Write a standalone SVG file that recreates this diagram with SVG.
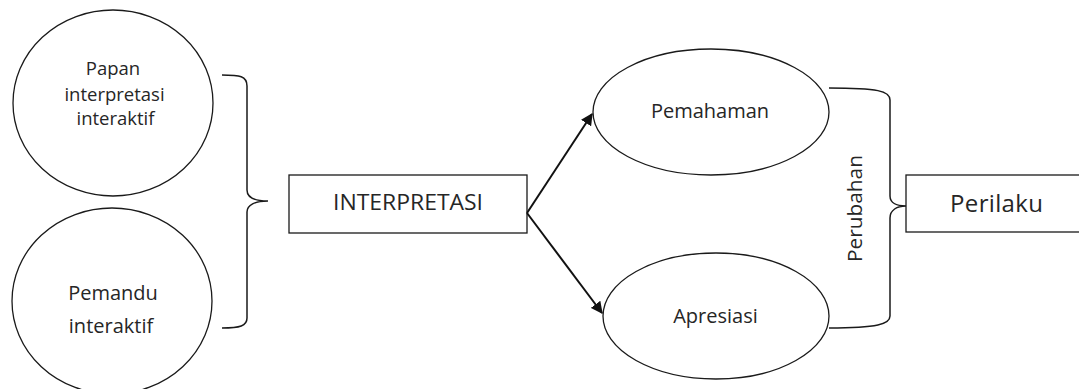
<svg xmlns="http://www.w3.org/2000/svg" width="1079" height="389" viewBox="0 0 1079 389">
<style>
.shape{fill:#fff;stroke:#1a1a1a;stroke-width:1.3}
.brace{fill:none;stroke:#1a1a1a;stroke-width:1.5}
.arrow{fill:none;stroke:#111;stroke-width:2}
text{font-family:"Open Sans","Liberation Sans",sans-serif;fill:#262626;text-anchor:middle}
</style>
<defs>
<marker id="ah" viewBox="0 0 10 10" refX="9" refY="5" markerWidth="6" markerHeight="6" markerUnits="strokeWidth" orient="auto">
<path d="M0,0 L10,5 L0,10 Z" fill="#111"/>
</marker>
</defs>
<rect width="1079" height="389" fill="#fff"/>
<g id="node-papan">
<ellipse class="shape" cx="113" cy="103" rx="100" ry="93"/>
<text x="113" y="75" font-size="18.5">Papan</text>
<text x="114.5" y="101" font-size="18.5">interpretasi</text>
<text x="115.5" y="125" font-size="18.5">interaktif</text>
</g>
<g id="node-pemandu">
<ellipse class="shape" cx="112" cy="301" rx="100" ry="93"/>
<text x="113" y="300" font-size="20">Pemandu</text>
<text x="111" y="333" font-size="20">interaktif</text>
</g>
<g id="node-interpretasi">
<rect class="shape" x="289" y="175" width="238" height="58"/>
<text x="408" y="210" font-size="22.5" textLength="150" lengthAdjust="spacingAndGlyphs">INTERPRETASI</text>
</g>
<g id="node-pemahaman">
<ellipse class="shape" cx="711" cy="112" rx="118" ry="63"/>
<text x="710" y="118" font-size="20">Pemahaman</text>
</g>
<g id="node-apresiasi">
<ellipse class="shape" cx="716" cy="316" rx="113" ry="63"/>
<text x="715.5" y="323" font-size="20">Apresiasi</text>
</g>
<g id="node-perilaku">
<rect class="shape" x="906" y="175" width="190" height="57"/>
<text x="996.5" y="212" font-size="24" textLength="93" lengthAdjust="spacing">Perilaku</text>
</g>
<g id="connectors">
<path class="brace" d="M222,75 C240,75 247,76 247,86 L247,190 C247,198 255,201 268,201 C255,201 247,205 247,212 L247,318 C247,326 240,328 222,328"/>
<path class="brace" d="M829,88 C878,88 890,91 890,100 L890,196 C890,203 897,206 906,206 C897,206 890,210 890,218 L890,316 C890,324 878,328 829,328"/>
<line class="arrow" x1="527" y1="213" x2="592" y2="114" marker-end="url(#ah)"/>
<line class="arrow" x1="527" y1="213" x2="602" y2="313" marker-end="url(#ah)"/>
<text transform="translate(862,208.5) rotate(-90)" font-size="20.8">Perubahan</text>
</g>
</svg>
